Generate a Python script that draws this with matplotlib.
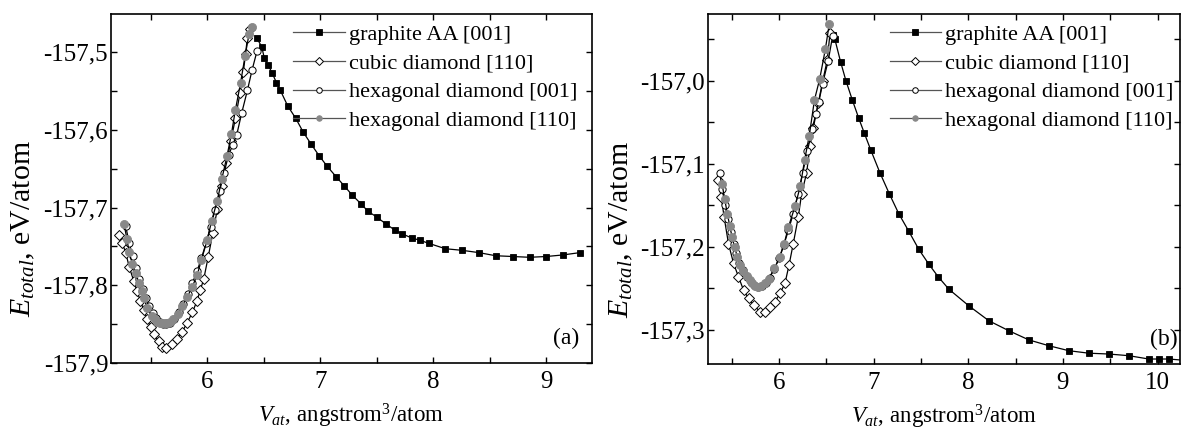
import matplotlib
matplotlib.use("Agg")
import matplotlib.pyplot as plt
from matplotlib.ticker import MultipleLocator, FuncFormatter

plt.rcParams['font.family'] = ['Liberation Serif', 'DejaVu Serif']
plt.rcParams['mathtext.fontset'] = 'custom'
plt.rcParams['mathtext.rm'] = 'Liberation Serif'
plt.rcParams['mathtext.it'] = 'Liberation Serif:italic'
plt.rcParams['axes.unicode_minus'] = False

labels = ["graphite AA [001]", "cubic diamond [110]",
          "hexagonal diamond [001]", "hexagonal diamond [110]"]

# ---------------- panel (a) ----------------
a_graph_x = [6.44, 6.483, 6.506, 6.541, 6.576, 6.612, 6.647, 6.712, 6.783, 6.85,
             6.918, 6.989, 7.062, 7.139, 7.212, 7.283, 7.359, 7.424, 7.498, 7.58,
             7.66, 7.727, 7.807, 7.88, 7.959, 8.107, 8.253, 8.403, 8.551, 8.703,
             8.851, 8.998, 9.145, 9.295]
a_graph_y = [-157.482, -157.493, -157.508, -157.517, -157.527, -157.539, -157.549,
             -157.569, -157.585, -157.603, -157.618, -157.633, -157.647, -157.660,
             -157.672, -157.684, -157.695, -157.705, -157.712, -157.721, -157.729,
             -157.734, -157.739, -157.742, -157.746, -157.753, -157.755, -157.758,
             -157.762, -157.763, -157.764, -157.763, -157.761, -157.758]

a_cub_x = [5.22, 5.25, 5.28, 5.31, 5.35, 5.38, 5.41, 5.44, 5.47, 5.50, 5.53, 5.57,
           5.60, 5.64, 5.69, 5.73, 5.78, 5.82, 5.87, 5.91, 5.94, 5.97, 6.01, 6.05,
           6.09, 6.13, 6.17, 6.21, 6.25, 6.29, 6.32, 6.34, 6.355, 6.38]
a_cub_y = [-157.735, -157.746, -157.758, -157.776, -157.794, -157.808, -157.820,
           -157.832, -157.844, -157.854, -157.863, -157.872, -157.879, -157.881,
           -157.876, -157.869, -157.860, -157.849, -157.835, -157.820, -157.806,
           -157.792, -157.763, -157.733, -157.702, -157.672, -157.643, -157.614,
           -157.585, -157.553, -157.525, -157.502, -157.482, -157.470]

a_h001_x = [5.28, 5.31, 5.34, 5.37, 5.40, 5.43, 5.46, 5.49, 5.52, 5.55, 5.58, 5.61,
            5.64, 5.67, 5.71, 5.75, 5.79, 5.83, 5.87, 5.91, 5.95, 5.99, 6.03, 6.07,
            6.11, 6.15, 6.19, 6.225, 6.262, 6.306, 6.356, 6.397, 6.44]
a_h001_y = [-157.724, -157.745, -157.762, -157.778, -157.792, -157.805, -157.817,
            -157.827, -157.836, -157.842, -157.847, -157.850, -157.850, -157.848,
            -157.843, -157.835, -157.824, -157.811, -157.797, -157.782, -157.765,
            -157.746, -157.725, -157.703, -157.679, -157.655, -157.632, -157.620,
            -157.606, -157.578, -157.549, -157.523, -157.499]

a_h110_x = [5.265, 5.29, 5.31, 5.338, 5.367, 5.397, 5.42, 5.441, 5.47, 5.508,
            5.535, 5.559, 5.58, 5.603, 5.625, 5.647, 5.67, 5.697, 5.74, 5.78,
            5.825, 5.868, 5.912, 5.95, 6.0, 6.04, 6.09, 6.13, 6.175, 6.215, 6.25,
            6.295, 6.335, 6.37, 6.395]
a_h110_y = [-157.721, -157.740, -157.757, -157.772, -157.784, -157.797, -157.808,
            -157.817, -157.829, -157.840, -157.844, -157.847, -157.848, -157.849,
            -157.849, -157.849, -157.847, -157.844, -157.837, -157.827, -157.815,
            -157.802, -157.787, -157.767, -157.742, -157.717, -157.691, -157.663,
            -157.634, -157.605, -157.574, -157.540, -157.505, -157.477, -157.467]

# ---------------- panel (b) ----------------
b_graph_x = [6.567, 6.59, 6.65, 6.707, 6.774, 6.842, 6.901, 6.968, 7.067, 7.165,
             7.265, 7.37, 7.477, 7.584, 7.682, 7.795, 8.006, 8.218, 8.429, 8.64,
             8.851, 9.062, 9.273, 9.485, 9.696, 9.907, 10.013, 10.118, 10.33]
b_graph_y = [-156.945, -156.950, -156.977, -157.000, -157.023, -157.045, -157.063,
             -157.083, -157.111, -157.136, -157.160, -157.181, -157.203, -157.221,
             -157.236, -157.251, -157.271, -157.289, -157.301, -157.312, -157.319,
             -157.325, -157.328, -157.329, -157.331, -157.335, -157.335, -157.335,
             -157.337]

b_cub_x = [5.36, 5.39, 5.42, 5.466, 5.52, 5.572, 5.625, 5.678, 5.731, 5.8, 5.852,
           5.905, 5.958, 6.011, 6.063, 6.106, 6.151, 6.204, 6.239, 6.292, 6.327,
           6.362, 6.415, 6.461, 6.51, 6.539]
b_cub_y = [-157.120, -157.140, -157.164, -157.196, -157.220, -157.236, -157.252,
           -157.262, -157.270, -157.278, -157.278, -157.272, -157.266, -157.256,
           -157.244, -157.222, -157.196, -157.164, -157.136, -157.111, -157.079,
           -157.057, -157.027, -157.001, -156.975, -156.943]

b_h001_x = [5.374, 5.40, 5.43, 5.46, 5.49, 5.52, 5.55, 5.58, 5.62, 5.66, 5.70,
            5.74, 5.78, 5.82, 5.86, 5.90, 5.95, 6.00, 6.05, 6.10, 6.15, 6.20, 6.25,
            6.30, 6.35, 6.39, 6.42, 6.46, 6.52, 6.567]
b_h001_y = [-157.111, -157.130, -157.150, -157.167, -157.182, -157.196, -157.208,
            -157.219, -157.228, -157.236, -157.242, -157.246, -157.248, -157.247,
            -157.243, -157.237, -157.227, -157.214, -157.198, -157.180, -157.160,
            -157.137, -157.111, -157.085, -157.058, -157.040, -157.026, -157.004,
            -156.976, -156.946]

b_h110_x = [5.398, 5.427, 5.454, 5.48, 5.504, 5.53, 5.56, 5.588, 5.62, 5.659,
            5.69, 5.72, 5.75, 5.78, 5.815, 5.85, 5.89, 5.95, 6.01, 6.055, 6.10,
            6.17, 6.225, 6.27, 6.32, 6.375, 6.43, 6.49, 6.531]
b_h110_y = [-157.124, -157.143, -157.160, -157.175, -157.188, -157.200, -157.212,
            -157.222, -157.229, -157.235, -157.240, -157.244, -157.247, -157.248,
            -157.247, -157.244, -157.239, -157.226, -157.212, -157.196, -157.176,
            -157.151, -157.127, -157.096, -157.066, -157.023, -156.998, -156.962,
            -156.932]

TICK_FS = 18
YLAB_FS = 21.5
XLAB_FS = 16.5
LEG_FS = 16


def style_series(ax, sx, sy, which, label):
    common = dict(lw=0.9, color='black', label=label)
    if which == 0:
        ax.plot(sx, sy, marker='s', ms=4.5, mfc='black', mec='black', mew=0.6, **common)
    elif which == 1:
        ax.plot(sx, sy, marker='D', ms=4.8, mfc='white', mec='black', mew=0.7, **common)
    elif which == 2:
        ax.plot(sx, sy, marker='o', ms=5.2, mfc='white', mec='black', mew=0.7, **common)
    else:
        ax.plot(sx, sy, marker='o', ms=5.8, mfc='#888888', mec='#888888', mew=0.6, **common)


def setup(ax, xlim, ylim, yticks, xticks, tag, tag_x, leg_x, ylab_x):
    ax.set_xlim(*xlim)
    ax.set_ylim(*ylim)
    ax.set_yticks(yticks)
    ax.set_xticks(xticks)
    ax.xaxis.set_minor_locator(MultipleLocator(0.5))
    ax.yaxis.set_minor_locator(MultipleLocator(0.05))
    ax.yaxis.set_major_formatter(FuncFormatter(lambda v, p: ("%.1f" % v).replace('.', ',')))
    ax.xaxis.set_major_formatter(FuncFormatter(lambda v, p: "%d" % round(v)))
    ax.tick_params(which='both', direction='in', top=True, right=True,
                   length=4, width=1.0, labelsize=TICK_FS)
    ax.tick_params(axis='x', which='major', pad=6)
    ax.tick_params(axis='y', which='major', pad=2)
    for s in ax.spines.values():
        s.set_linewidth(1.2)
    ax.set_ylabel(r'$E_{total}$, eV/atom', fontsize=YLAB_FS)
    ax.yaxis.set_label_coords(ylab_x, 0.385)
    ax.set_xlabel(r'$V_{at}$, angstrom$^3$/atom', fontsize=XLAB_FS, labelpad=6)
    ax.text(tag_x, 0.04, tag, transform=ax.transAxes, ha='right', va='bottom',
            fontsize=17)
    leg = ax.legend(loc='upper right', bbox_to_anchor=(leg_x, 1.0),
                    frameon=False, fontsize=LEG_FS, handlelength=2.3,
                    handletextpad=0.2, labelspacing=0.37, borderaxespad=0.35,
                    borderpad=0.1)
    for h in leg.legend_handles:
        h.set_color('#555555')
        h.set_markersize(4)


fig = plt.figure(figsize=(11.81, 4.30), dpi=100)
ax1 = fig.add_axes([0.094, 0.156, 0.407, 0.811])
ax2 = fig.add_axes([0.5995, 0.1535, 0.3995, 0.8135])

for i, (sx, sy) in enumerate([(a_graph_x, a_graph_y), (a_cub_x, a_cub_y),
                              (a_h001_x, a_h001_y), (a_h110_x, a_h110_y)]):
    style_series(ax1, sx, sy, i, labels[i])
for i, (sx, sy) in enumerate([(b_graph_x, b_graph_y), (b_cub_x, b_cub_y),
                              (b_h001_x, b_h001_y), (b_h110_x, b_h110_y)]):
    style_series(ax2, sx, sy, i, labels[i])

setup(ax1, (5.15, 9.4), (-157.9, -157.451),
      [-157.9, -157.8, -157.7, -157.6, -157.5], [6, 7, 8, 9], '(a)', 0.975, 0.991,
      -0.155)
setup(ax2, (5.25, 10.235), (-157.341, -156.92),
      [-157.3, -157.2, -157.1, -157.0], [6, 7, 8, 9, 10], '(b)', 0.995, 1.008,
      -0.155)

fig.savefig('out.png', dpi=100)
